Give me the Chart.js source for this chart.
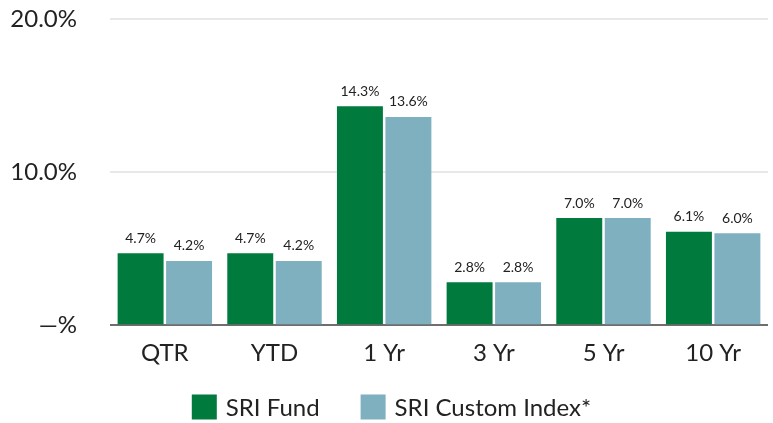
<!DOCTYPE html>
<html>
<head>
<meta charset="utf-8">
<script src="https://cdn.jsdelivr.net/npm/chart.js@4/dist/chart.umd.min.js"></script>
<style>
  html, body { margin: 0; padding: 0; background: #fff; }
  #wrap { width: 773px; height: 423px; }
</style>
</head>
<body>
<div id="wrap"><canvas id="perfChart"></canvas></div>
<script>
const categories = ['QTR', 'YTD', '1 Yr', '3 Yr', '5 Yr', '10 Yr'];
const fundValues = [4.7, 4.7, 14.3, 2.8, 7.0, 6.1];
const indexValues = [4.2, 4.2, 13.6, 2.8, 7.0, 6.0];
const seriesNames = ['SRI Fund', 'SRI Custom Index*'];
const yTicks = [0, 10, 20];

const FONT = 'Lato, "Open Sans", sans-serif';
const GREEN = '#007a3d';
const BLUE = '#7fb0bf';

// value labels above each bar
const barLabels = {
    id: 'barLabels',
    afterDatasetsDraw(chart) {
        const ctx = chart.ctx;
        ctx.save();
        ctx.font = '14px ' + FONT;
        ctx.fillStyle = '#222';
        ctx.textAlign = 'center';
        ctx.textBaseline = 'bottom';
        chart.data.datasets.forEach((ds, i) => {
            chart.getDatasetMeta(i).data.forEach((bar, j) => {
                ctx.fillText(ds.data[j].toFixed(1) + '%', bar.x, bar.y - 8);
            });
        });
        ctx.restore();
    }
};

// legend drawn by hand so the spacing between items can match
const bottomLegend = {
    id: 'bottomLegend',
    afterDraw(chart) {
        const ctx = chart.ctx;
        const box = 25, gap = 9, spacing = 41, cy = 407;
        ctx.save();
        ctx.font = '24px ' + FONT;
        const items = chart.data.datasets.map(ds => ({
            text: ds.label,
            color: ds.backgroundColor,
            w: ctx.measureText(ds.label).width
        }));
        let total = items.reduce((s, it) => s + box + gap + it.w, 0) + spacing * (items.length - 1);
        let x = chart.width / 2 + 5 - total / 2;
        ctx.textBaseline = 'middle';
        ctx.textAlign = 'left';
        items.forEach(it => {
            ctx.fillStyle = it.color;
            ctx.fillRect(x, cy - box / 2, box, box);
            ctx.fillStyle = '#222';
            ctx.fillText(it.text, x + box + gap, cy + 1);
            x += box + gap + it.w + spacing;
        });
        ctx.restore();
    }
};

new Chart(document.getElementById('perfChart'), {
    type: 'bar',
    data: {
        labels: categories,
        datasets: [{
            label: seriesNames[0],
            data: fundValues,
            backgroundColor: GREEN,
            categoryPercentage: 0.884,
            barPercentage: 0.948
        }, {
            label: seriesNames[1],
            data: indexValues,
            backgroundColor: BLUE,
            categoryPercentage: 0.884,
            barPercentage: 0.948
        }]
    },
    options: {
        responsive: true,
        maintainAspectRatio: false,
        animation: false,
        layout: { padding: { top: 19, right: 5, bottom: 41, left: 0 } },
        scales: {
            x: {
                grid: { display: false, drawTicks: false },
                border: { display: false },
                ticks: { color: '#222', font: { family: FONT, size: 24 }, padding: 14 }
            },
            y: {
                min: 0,
                max: 20,
                afterBuildTicks(scale) {
                    scale.ticks = yTicks.map(v => ({ value: v }));
                },
                afterFit(scale) {
                    scale.width = 110;
                    scale.paddingTop = 0;
                    scale.paddingBottom = 0;
                },
                border: { display: false },
                grid: {
                    drawTicks: false,
                    lineWidth: 2,
                    color: c => c.tick && c.tick.value === 0 ? '#6e6e6e' : '#e8e8e8'
                },
                ticks: {
                    color: '#222',
                    padding: 33,
                    font: { family: FONT, size: 24 },
                    callback: v => v === 0 ? '\u2014%' : v.toFixed(1) + '%'
                }
            }
        },
        plugins: {
            legend: { display: false },
            tooltip: { enabled: false }
        }
    },
    plugins: [barLabels, bottomLegend]
});
</script>
</body>
</html>
